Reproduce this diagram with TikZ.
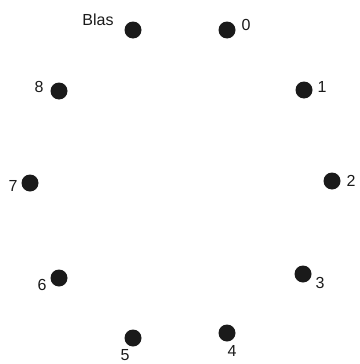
\documentclass[tikz,border=0pt]{standalone}
\usepackage{fontspec}
\setmainfont{Liberation Sans}
\usetikzlibrary{positioning}
\definecolor{rkink}{HTML}{1A1A1A}
\tikzset{
  rkdot/.style={circle, fill=rkink, minimum size=17pt, inner sep=0pt},
  rklbl/.style={text=rkink, font=\fontsize{16pt}{18pt}\selectfont, inner sep=0pt}
}
\begin{document}
\begin{tikzpicture}[x=1pt, y=-1pt]
\useasboundingbox (0,0) rectangle (359,364);
\node[rkdot] (dblas) at (133,30) {};
\node[rkdot] (d0) at (227,30) {};
\node[rkdot] (d1) at (304,90) {};
\node[rkdot] (d2) at (332,181) {};
\node[rkdot] (d3) at (303,274) {};
\node[rkdot] (d4) at (227,333) {};
\node[rkdot] (d5) at (133,338) {};
\node[rkdot] (d6) at (59,278) {};
\node[rkdot] (d7) at (30,183) {};
\node[rkdot] (d8) at (59,91) {};
\node[rklbl] (lblas) at (98,20) {Blas};
\node[rklbl] (l0) at (246,25) {0};
\node[rklbl] (l1) at (322,87) {1};
\node[rklbl] (l2) at (351,181) {2};
\node[rklbl] (l3) at (320,283) {3};
\node[rklbl] (l4) at (232,351) {4};
\node[rklbl] (l5) at (125,355) {5};
\node[rklbl] (l6) at (42,285) {6};
\node[rklbl] (l7) at (13,186) {7};
\node[rklbl] (l8) at (39,87) {8};
\end{tikzpicture}
\end{document}
